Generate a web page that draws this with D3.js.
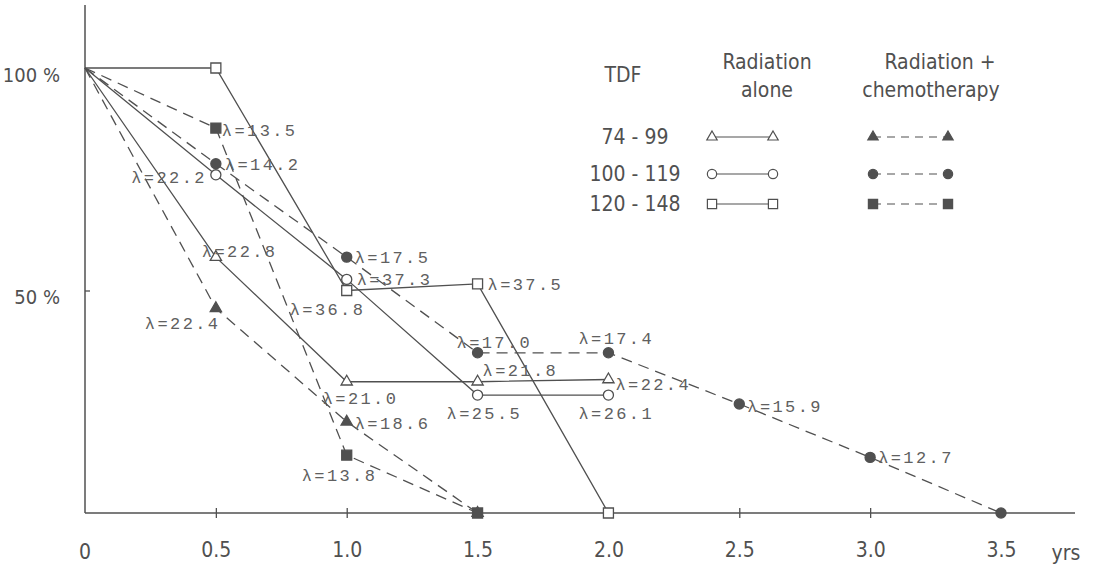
<!DOCTYPE html>
<html>
<head>
<meta charset="utf-8">
<script src="https://cdn.jsdelivr.net/npm/d3@7"></script>
<style>
  html,body{margin:0;padding:0;background:#fff;}
  svg{display:block;}
</style>
</head>
<body>
<div id="chart"></div>
<script>
// ---- data ----
const years = [0, 0.5, 1.0, 1.5, 2.0, 2.5, 3.0, 3.5];
const xTickValues = [0.5, 1.0, 1.5, 2.0, 2.5, 3.0, 3.5];
const yTickValues = [50, 100];
const tdfGroups = ['74 - 99', '100 - 119', '120 - 148'];

// survival (%) at each year mark, radiation alone
const aloneTri    = [100, 57.5, 29.5, 29.5, 30];
const aloneCircle = [100, 76, 52.5, 26.5, 26.5];
const aloneSquare = [100, 100, 50, 51.5, 0];
// radiation + chemotherapy
const chemoTri    = [100, 46, 20.5, 0];
const chemoCircle = [100, 78.5, 57.5, 36, 36, 24.5, 12.5, 0];
const chemoSquare = [100, 86.5, 13, 0];

// lambda annotations per point
const aloneTriLambda    = [null, 22.8, 21.0, 21.8, 22.4];
const aloneCircleLambda = [null, 22.2, 37.3, 25.5, 26.1];
const aloneSquareLambda = [null, null, 36.8, 37.5, null];
const chemoTriLambda    = [null, 22.4, 18.6, null];
const chemoCircleLambda = [null, 14.2, 17.5, 17.0, 17.4, 15.9, 12.7, null];
const chemoSquareLambda = [null, 13.5, 13.8, null];

// ---- layout ----
const W = 1096, H = 567;
const INK = '#505050';
const SANS = '"Liberation Sans Narrow","DejaVu Sans Condensed","Roboto Condensed",sans-serif';
const MONO = '"Liberation Mono","DejaVu Sans Mono",monospace';

// label offsets from their point: [dx, dy, anchor]
const labelOffsets = {
  aloneTri:    [null, [-14, -6, 'start'], [-24, 16, 'start'], [5, -12, 'start'], [7, 4, 'start']],
  aloneCircle: [null, [-9, 2, 'end'], [10, 0, 'start'], [-31, 18, 'start'], [-30, 18, 'start']],
  aloneSquare: [null, null, [-57, 18, 'start'], [10, 0, 'start'], null],
  chemoTri:    [null, [-71, 15, 'start'], [8, 1, 'start'], null],
  chemoCircle: [null, [9, 0, 'start'], [8, 0, 'start'], [-21, -11, 'start'], [-30, -15, 'start'], [8, 2, 'start'], [8, 0, 'start'], null],
  chemoSquare: [null, [6, 2, 'start'], [-45, 20, 'start'], null]
};

const series = [
  {key:'aloneTri',    vals:aloneTri,    lam:aloneTriLambda,    shape:d3.symbolTriangle, filled:false, dashed:false},
  {key:'aloneCircle', vals:aloneCircle, lam:aloneCircleLambda, shape:d3.symbolCircle,   filled:false, dashed:false},
  {key:'aloneSquare', vals:aloneSquare, lam:aloneSquareLambda, shape:d3.symbolSquare,   filled:false, dashed:false},
  {key:'chemoTri',    vals:chemoTri,    lam:chemoTriLambda,    shape:d3.symbolTriangle, filled:true,  dashed:true},
  {key:'chemoCircle', vals:chemoCircle, lam:chemoCircleLambda, shape:d3.symbolCircle,   filled:true,  dashed:true},
  {key:'chemoSquare', vals:chemoSquare, lam:chemoSquareLambda, shape:d3.symbolSquare,   filled:true,  dashed:true}
];
const symSize = s => s === d3.symbolTriangle ? 55 : (s === d3.symbolCircle ? 80 : 100);

const x = d3.scaleLinear().domain([0, 3.5]).range([85, 1001]);
const y = d3.scaleLinear().domain([0, 100]).range([513, 68]);

const svg = d3.select('#chart').append('svg')
  .attr('width', W).attr('height', H)
  .attr('viewBox', `0 0 ${W} ${H}`);

// Axes
const gx = svg.append('g').attr('transform', `translate(0,${y(0)})`)
  .call(d3.axisBottom(x).tickValues(xTickValues).tickSize(5).tickPadding(24).tickFormat(d3.format('.1f')));
gx.select('.domain').remove();
gx.selectAll('.tick line').attr('y1', -5).attr('stroke', INK).attr('stroke-width', 1.3);
gx.selectAll('.tick text').attr('fill', INK).style('font-family', SANS).style('font-size', '21px');
svg.append('line').attr('x1', x(0)).attr('x2', 1075).attr('y1', y(0)).attr('y2', y(0))
  .attr('stroke', INK).attr('stroke-width', 1.5);
svg.append('text').attr('x', x(0)).attr('y', y(0) + 46).attr('text-anchor', 'middle')
  .attr('fill', INK).style('font-family', SANS).style('font-size', '21px').text('0');
svg.append('text').attr('x', 1066).attr('y', y(0) + 47).attr('text-anchor', 'middle')
  .attr('fill', INK).style('font-family', SANS).style('font-size', '21px').text('yrs');

svg.append('line').attr('x1', x(0)).attr('x2', x(0)).attr('y1', 5).attr('y2', y(0))
  .attr('stroke', INK).attr('stroke-width', 1.5);
const gy = svg.append('g').attr('transform', `translate(${x(0)},0)`)
  .call(d3.axisLeft(y).tickValues(yTickValues).tickSize(0).tickPadding(25).tickFormat(d => d + ' %'));
gy.select('.domain').remove();
gy.selectAll('.tick text').attr('fill', INK).attr('dy', '0.65em')
  .style('font-family', SANS).style('font-size', '20px');
const gyt = svg.append('g').attr('transform', `translate(${x(0)},0)`)
  .call(d3.axisRight(y).tickValues([50]).tickSize(5).tickFormat(''));
gyt.select('.domain').remove();
gyt.selectAll('.tick line').attr('stroke', INK).attr('stroke-width', 1.3);

// Lines
const line = d3.line().x(d => x(d.t)).y(d => y(d.v));
series.forEach(s => {
  s.pts = s.vals.map((v, i) => ({t: years[i], v, lam: s.lam[i], off: labelOffsets[s.key][i]}));
  svg.append('path').datum(s.pts).attr('d', line)
    .attr('fill', 'none').attr('stroke', INK).attr('stroke-width', 1.3)
    .attr('stroke-dasharray', s.dashed ? '11,7' : null);
});

// Markers
series.forEach(s => {
  svg.selectAll(null).data(s.pts.slice(1)).enter().append('path')
    .attr('d', d3.symbol(s.shape, symSize(s.shape)))
    .attr('transform', d => `translate(${x(d.t)},${y(d.v)})`)
    .attr('fill', s.filled ? INK : '#fff')
    .attr('stroke', INK).attr('stroke-width', 1.3);
});

// Lambda labels
series.forEach(s => {
  svg.selectAll(null).data(s.pts.filter(d => d.lam != null)).enter().append('text')
    .attr('x', d => x(d.t) + d.off[0])
    .attr('y', d => y(d.v) + d.off[1])
    .attr('dy', '0.36em')
    .attr('text-anchor', d => d.off[2])
    .attr('fill', '#606060')
    .style('font-family', MONO).style('font-size', '17px').style('letter-spacing', '2.4px')
    .text(d => 'λ=' + d.lam.toFixed(1));
});

// Legend
const lg = svg.append('g');
const legText = (tx, ty, str, anchor) => lg.append('text').attr('x', tx).attr('y', ty)
  .attr('dy', '0.35em').attr('text-anchor', anchor || 'middle').attr('fill', INK)
  .style('font-family', SANS).style('font-size', '21px').text(str);
legText(623, 75, 'TDF');
legText(767, 62, 'Radiation');
legText(767, 90, 'alone');
legText(940, 62, 'Radiation +');
legText(931, 90, 'chemotherapy');
const rowY = [137, 174, 204];
tdfGroups.forEach((g, i) => {
  legText(635, rowY[i], g);
  [[712, 773, series[i]], [873, 948, series[i + 3]]].forEach(([x1, x2, s]) => {
    lg.append('line').attr('x1', x1).attr('x2', x2).attr('y1', rowY[i]).attr('y2', rowY[i])
      .attr('stroke', INK).attr('stroke-width', 1.2)
      .attr('stroke-dasharray', s.dashed ? '8,6' : null);
    [x1, x2].forEach(px => lg.append('path')
      .attr('d', d3.symbol(s.shape, symSize(s.shape) * 0.85))
      .attr('transform', `translate(${px},${rowY[i]})`)
      .attr('fill', s.filled ? INK : '#fff')
      .attr('stroke', INK).attr('stroke-width', 1.2));
  });
});
</script>
</body>
</html>
